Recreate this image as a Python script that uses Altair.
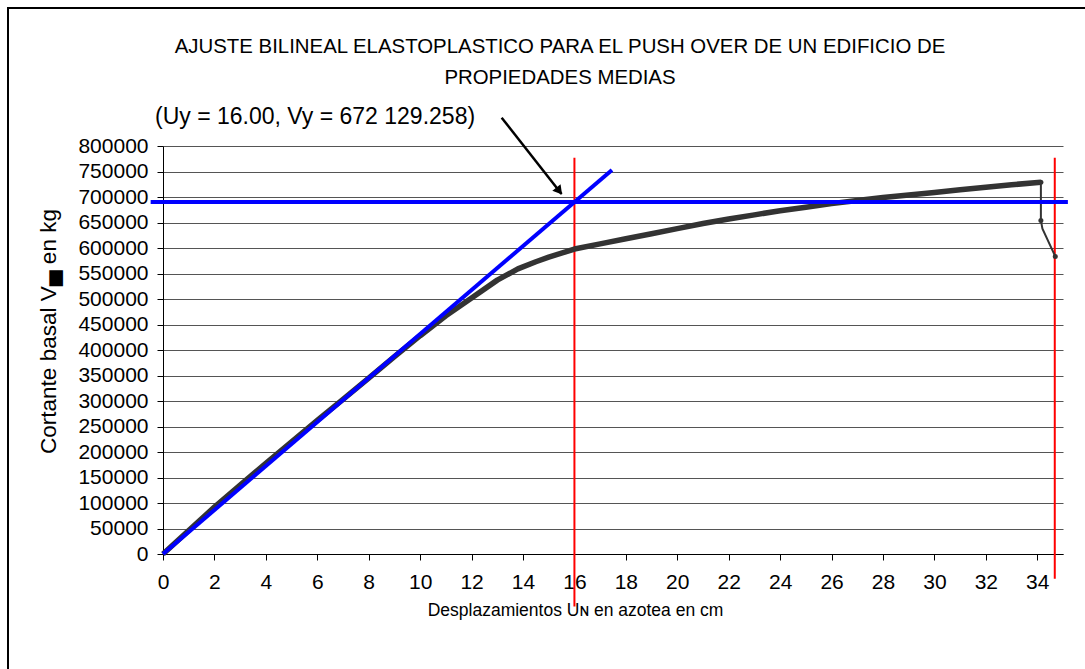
import altair as alt
import pandas as pd

# ---------------- data ----------------
curve_x = [0, 1, 2, 3, 4, 5, 6, 7, 8, 9, 10, 11, 12, 13, 13.8, 14.5, 15, 16, 17, 18, 19, 20,
           21, 22, 23, 24, 25, 26, 27, 28, 29, 30, 31, 32, 33, 34.14]
curve_y = [0, 46000, 92000, 135000, 178000, 220000, 262000, 303000, 345000, 387000, 428000,
           467000, 502000, 537000, 559000, 573000, 582000, 598000, 608000, 618000, 628000,
           638000, 648000, 657000, 665000, 673000, 680000, 687000, 693000, 699000, 704000,
           709000, 714000, 719000, 724000, 729000]

tail_x = [34.14, 34.14, 34.2, 34.70]
tail_y = [729000, 654000, 638000, 583500]
dot_x = [34.14, 34.14, 34.70]
dot_y = [729000, 654000, 583500]

elastic_x = [0, 17.46]
elastic_y = [0, 753000]
plastic_x = [-0.48, 35.19]
plastic_y = [690000, 690000]

red_x = [16, 34.68]
red_top = [777000, 777000]
red_bottom = [-103000, -48500]

arrow_x = [13.17]
arrow_y = [855500]
arrow_x2 = [15.5]
arrow_y2 = [706000]
head_x = [15.41]
head_y = [711800]

title_lines = ["AJUSTE BILINEAL ELASTOPLASTICO PARA EL PUSH OVER DE UN EDIFICIO DE",
               "PROPIEDADES MEDIAS"]
note_text = ["(Uy = 16.00, Vy = 672 129.258)"]
y_title = "Cortante basal V\u2584 en kg"
x_title = "Desplazamientos U\u0274 en azotea en cm"
x_ticks = list(range(0, 35, 2))
y_ticks = list(range(0, 800001, 50000))

FONT = "Liberation Sans"
W, H = 900, 408
xs = alt.Scale(domain=[0, 35], nice=False, zero=False)
ys = alt.Scale(domain=[0, 800000], nice=False, zero=False)

x_axis = alt.Axis(
    values=x_ticks, grid=False, tickSize=6, labelPadding=11, labelFontSize=21,
    labelFont=FONT, labelColor="black", domainColor="black", tickColor="black",
    title=x_title, titleFont=FONT, titleFontSize=17.5, titleFontWeight="normal",
    titleX=412, titleY=56, titleAlign="center", titleBaseline="middle",
    labelFlush=False, labelOverlap=False)
y_axis = alt.Axis(
    values=y_ticks, format="d", grid=True, gridColor="#555555", gridWidth=1,
    tickSize=6, labelPadding=9, labelFontSize=21, labelFont=FONT, labelColor="black",
    domainColor="black", tickColor="black", labelOverlap=False, labelFlush=False,
    title=y_title, titleFont=FONT, titleFontSize=22.5, titleFontWeight="normal",
    titleX=-115, titleY=185, titleAngle=-90, titleAlign="center",
    titleBaseline="middle")


def X(f="x:Q"):
    return alt.X(f, scale=xs, axis=x_axis)


def Y(f="y:Q"):
    return alt.Y(f, scale=ys, axis=y_axis)


# ---------------- layers ----------------
red = alt.Chart(pd.DataFrame({"x": red_x, "y": red_top, "y2": red_bottom})).mark_rule(
    color="#FF0000", strokeWidth=2).encode(x=X(), y=Y(), y2="y2:Q")

curve = alt.Chart(pd.DataFrame({"x": curve_x, "y": curve_y})).mark_line(
    color="#333333", strokeWidth=5.5, strokeJoin="round").encode(x=X(), y=Y())

tail = alt.Chart(pd.DataFrame({"x": tail_x, "y": tail_y})).mark_line(
    color="#333333", strokeWidth=2).encode(x=X(), y=Y())

dots = alt.Chart(pd.DataFrame({"x": dot_x, "y": dot_y})).mark_point(
    filled=True, color="#333333", size=25, opacity=1).encode(x=X(), y=Y())

elastic = alt.Chart(pd.DataFrame({"x": elastic_x, "y": elastic_y})).mark_line(
    color="#0000FF", strokeWidth=4).encode(x=X(), y=Y())

plastic = alt.Chart(pd.DataFrame({"x": plastic_x, "y": plastic_y})).mark_line(
    color="#0000FF", strokeWidth=4).encode(x=X(), y=Y())

arrow = alt.Chart(pd.DataFrame({"x": arrow_x, "y": arrow_y, "x2": arrow_x2, "y2": arrow_y2})).mark_rule(
    color="black", strokeWidth=2.5).encode(x=X(), y=Y(), x2="x2:Q", y2="y2:Q")

head = alt.Chart(pd.DataFrame({"x": head_x, "y": head_y})).mark_point(
    shape="triangle-up", filled=True, color="black", size=110, angle=142, opacity=1).encode(
    x=X(), y=Y())

note = alt.Chart(pd.DataFrame({"t": note_text})).mark_text(
    font=FONT, fontSize=23, align="left", baseline="middle", color="black").encode(
    text="t:N", x=alt.value(-8), y=alt.value(-29))

title = alt.Chart(pd.DataFrame({"t": ["\n".join(title_lines)]})).mark_text(
    font=FONT, fontSize=20.4, align="center", baseline="alphabetic", color="black",
    lineBreak="\n", lineHeight=31).encode(
    text="t:N", x=alt.value(397), y=alt.value(-93))

border_left = alt.Chart(pd.DataFrame({"a": [0]})).mark_rule(color="black", strokeWidth=2).encode(
    x=alt.value(-155), y=alt.value(-138), y2=alt.value(540))
border_top = alt.Chart(pd.DataFrame({"a": [0]})).mark_rule(color="black", strokeWidth=2).encode(
    x=alt.value(-156), x2=alt.value(940), y=alt.value(-138))

chart = alt.layer(
    red, curve, tail, dots, elastic, plastic, arrow, head, note, title,
    border_left, border_top
).properties(
    width=W, height=H,
    autosize=alt.AutoSizeParams(type="none"),
    padding={"left": 163, "top": 146, "right": 22, "bottom": 115},
    background="white",
).configure_view(stroke=None)

chart.save("out.html", embed_options={"renderer": "svg", "actions": False})
